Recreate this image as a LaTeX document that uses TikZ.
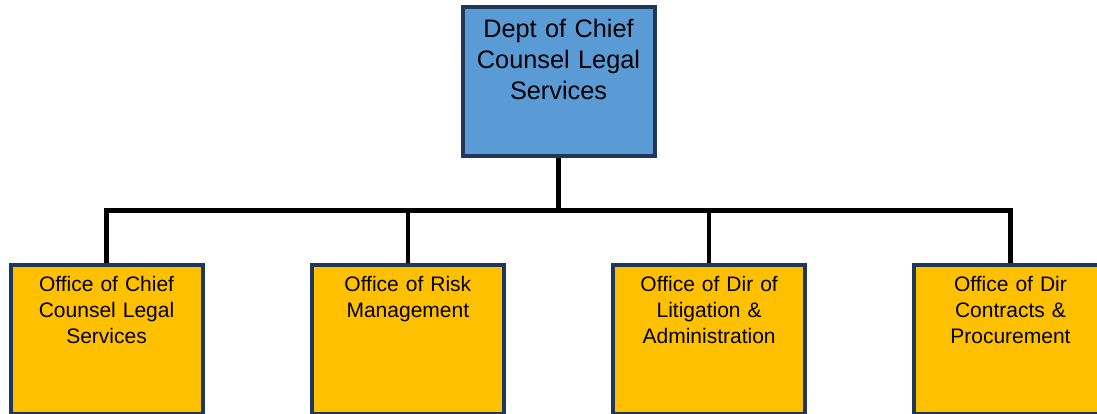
\documentclass[tikz,border=0pt]{standalone}
\usepackage{fontspec}
\setmainfont{Liberation Sans}
\usepackage{xcolor}
\usepackage{tikz}
\usetikzlibrary{trees}
\definecolor{deptblue}{HTML}{5B9BD5}
\definecolor{officegold}{HTML}{FFC000}
\definecolor{boxborder}{RGB}{31,56,88}
\tikzstyle{dept} = [draw=boxborder,line width=4pt,fill=deptblue,inner sep=0pt,text width=192pt,align=center,font=\fontsize{25.3}{31}\selectfont,text height=30.5pt,text depth=118.5pt]
\tikzstyle{office} = [draw=boxborder,line width=4pt,fill=officegold,inner sep=0pt,text width=192pt,align=center,font=\fontsize{21}{26}\selectfont,text height=26.7pt,text depth=122.3pt]

\begin{document}
\begin{tikzpicture}[
  x=1pt,y=1pt,
  level distance=258pt,
  sibling distance=301.3pt,
  edge from parent fork down,
  edge from parent/.style={draw,line width=4.5pt,black}
]
\useasboundingbox (0,0) rectangle (1097,-414);
% dept and its four offices
\node[dept] (dept) at (558.5,-81.5) {Dept of Chief\\Counsel Legal\\Services}
  child { node[office] (chief) {Office of Chief\\Counsel Legal\\Services} }
  child { node[office] (risk) {Office of Risk\\Management} }
  child { node[office] (litigation) {Office of Dir of\\Litigation \&\\Administration} }
  child { node[office] (contracts) {Office of Dir\\Contracts \&\\Procurement} };
\end{tikzpicture}
\end{document}
